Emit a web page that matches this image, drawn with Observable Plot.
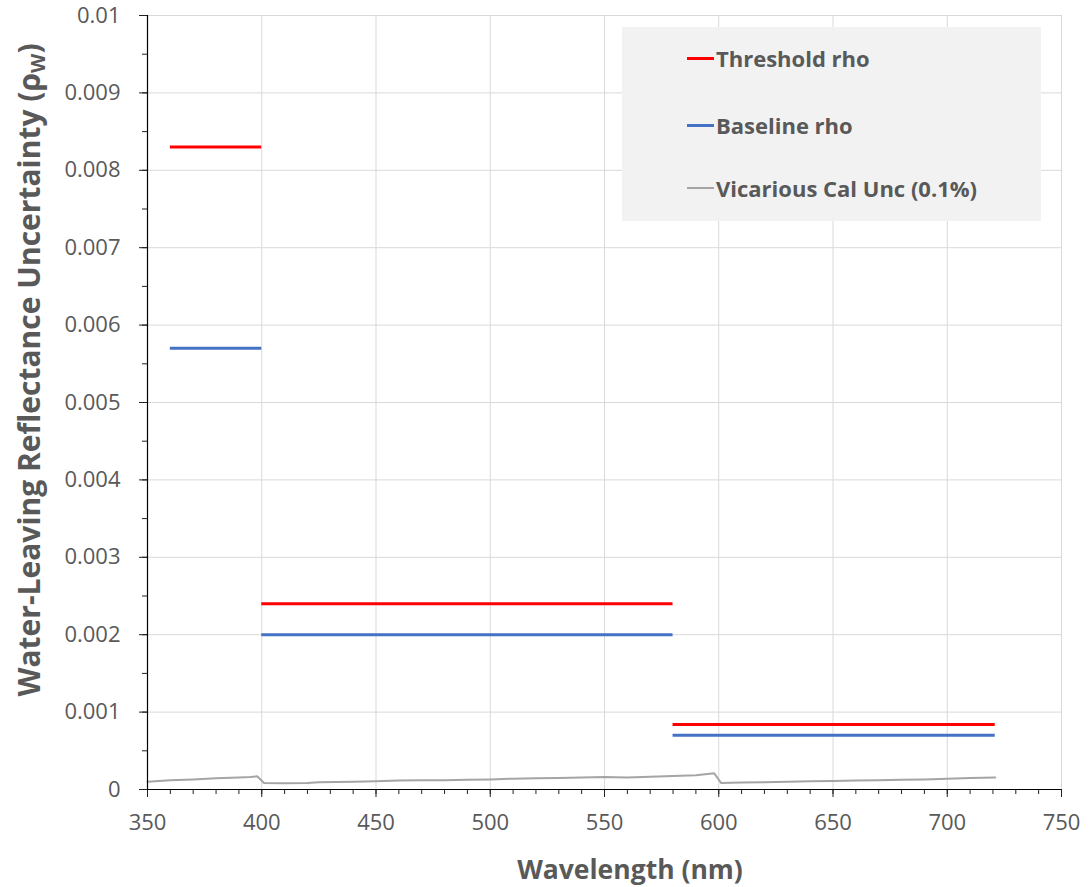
<!DOCTYPE html>
<html><head><meta charset="utf-8">
<script src="https://cdn.jsdelivr.net/npm/d3@7"></script>
<script src="https://cdn.jsdelivr.net/npm/@observablehq/plot@0.6"></script>
<style>
body{margin:0;background:#fff;font-family:"Open Sans",sans-serif;}
#wrap{position:relative;width:1091px;height:887px;}
.legend{position:absolute;left:622px;top:27px;width:419px;height:194px;background:#f2f2f2;}
.item{position:absolute;left:65px;display:flex;align-items:center;font-weight:bold;font-size:22px;color:#595959;white-space:nowrap;}
.sw{width:27px;height:0;margin-right:2px;}
</style></head>
<body><div id="wrap"></div>
<script>
const bandStart = [360, 400, 580];
const bandEnd = [400, 580, 721];
const thresholdRho = [0.0083, 0.0024, 0.00084];
const baselineRho = [0.0057, 0.0020, 0.0007];
const vicWavelength = [350,355,360,370,380,390,395,398,401,410,420,425,440,450,460,470,480,490,500,510,520,530,540,550,560,570,580,590,598,601,610,620,630,640,650,660,670,680,690,700,710,721];
const vicUnc = [0.000100,0.000110,0.000120,0.000130,0.000145,0.000155,0.000160,0.000170,0.000085,0.000080,0.000085,0.000095,0.000100,0.000105,0.000115,0.000120,0.000120,0.000125,0.000130,0.000140,0.000145,0.000150,0.000155,0.000160,0.000155,0.000165,0.000175,0.000185,0.000210,0.000085,0.000090,0.000095,0.000100,0.000105,0.000110,0.000115,0.000120,0.000125,0.000130,0.000140,0.000150,0.000155];
const xTicks = [350,400,450,500,550,600,650,700,750];
const yTicks = [0,0.001,0.002,0.003,0.004,0.005,0.006,0.007,0.008,0.009,0.01];
const yTickLabels = ["0","0.001","0.002","0.003","0.004","0.005","0.006","0.007","0.008","0.009","0.01"];
const seriesNames = ["Threshold rho","Baseline rho","Vicarious Cal Unc (0.1%)"];
const seriesColors = ["#ff0000","#4472c4","#a5a5a5"];

const bands = bandStart.map((s,i)=>({x1:s,x2:bandEnd[i],thr:thresholdRho[i],base:baselineRho[i]}));
const vic = vicWavelength.map((w,i)=>({w,v:vicUnc[i]}));
const xMinor = d3.range(350,751,10);
const yMinor = d3.range(0,21).map(i=>i*0.0005);

const chart = Plot.plot({
  width:1091, height:887,
  marginLeft:147, marginRight:30, marginTop:15, marginBottom:98,
  style:{fontFamily:'"Open Sans",sans-serif', background:"#fff"},
  x:{domain:[350,750]},
  y:{domain:[0,0.01]},
  marks:[
    Plot.gridX(xTicks.slice(1),{stroke:"#d9d9d9",strokeOpacity:1}),
    Plot.gridY(yTicks.slice(1),{stroke:"#d9d9d9",strokeOpacity:1}),
    Plot.line(vic,{x:"w",y:"v",stroke:seriesColors[2],strokeWidth:2}),
    Plot.ruleY(bands,{y:"thr",x1:"x1",x2:"x2",stroke:seriesColors[0],strokeWidth:3}),
    Plot.ruleY(bands,{y:"base",x1:"x1",x2:"x2",stroke:seriesColors[1],strokeWidth:3}),
    Plot.axisX(xMinor,{tickSize:5,text:null,stroke:"#222",label:null}),
    Plot.axisX(xTicks,{tickSize:8,tickPadding:17,fontSize:22,fill:"#595959",stroke:"#222",label:null}),
    Plot.axisY(yMinor,{tickSize:5,text:null,stroke:"#222",label:null}),
    Plot.axisY(yTicks,{tickSize:8,tickPadding:19,fontSize:22,fill:"#595959",stroke:"#222",label:null,
      tickFormat:(d)=>yTickLabels[yTicks.findIndex(t=>Math.abs(t-d)<1e-9)]}),
    Plot.ruleX([350],{stroke:"#000",strokeWidth:1.2}),
    Plot.ruleY([0],{stroke:"#000",strokeWidth:1.2})
  ]
});
const svg = d3.select(chart);
svg.append("text").attr("x",630).attr("y",879).attr("text-anchor","middle")
  .attr("font-size",26.5).attr("font-weight","bold").attr("fill","#595959").text("Wavelength (nm)");
const yt = svg.append("text").attr("transform","translate(40,370) rotate(-90)").attr("text-anchor","middle")
  .attr("font-size",30).attr("font-weight","bold").attr("fill","#595959");
yt.append("tspan").text("Water-Leaving Reflectance Uncertainty (ρ");
yt.append("tspan").attr("font-size",20).attr("dy",5).text("W");
yt.append("tspan").attr("dy",-5).text(")");
const wrap = document.getElementById("wrap");
wrap.appendChild(chart);
const leg = document.createElement("div");
leg.className = "legend";
const rowsY = [32, 99, 162];
seriesNames.forEach((n,i)=>{
  const it = document.createElement("div");
  it.className = "item";
  it.style.top = (rowsY[i]-16) + "px";
  const sw = document.createElement("span");
  sw.className = "sw";
  sw.style.borderTop = (i===2?2:3) + "px solid " + seriesColors[i];
  const tx = document.createElement("span");
  tx.textContent = n;
  it.appendChild(sw); it.appendChild(tx);
  leg.appendChild(it);
});
wrap.appendChild(leg);
</script></body></html>
